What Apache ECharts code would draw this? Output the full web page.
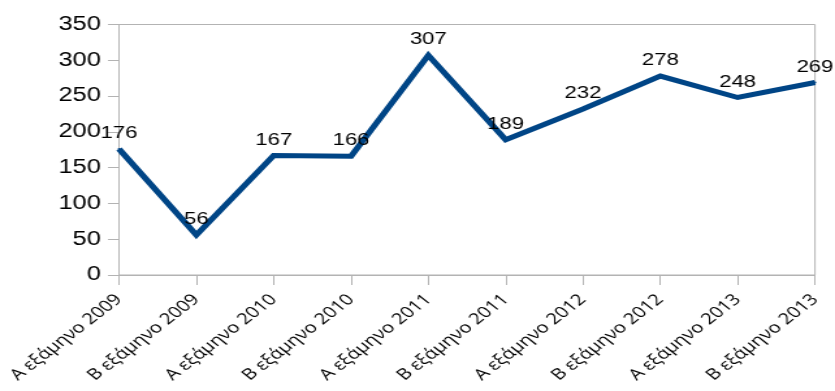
<!DOCTYPE html>
<html>
<head>
<meta charset="utf-8">
<script src="https://cdn.jsdelivr.net/npm/echarts@6/dist/echarts.min.js"></script>
<style>
  html, body { margin: 0; padding: 0; background: #ffffff; overflow: hidden; }
  /* The chart is drawn narrower and widened horizontally to 835px */
  #chart { width: 642px; height: 391px; transform: scaleX(1.30062); transform-origin: 0 0; }
</style>
</head>
<body>
<div id="chart"></div>
<script>
// Half-year periods
const categories = [
  'Α εξάμηνο 2009', 'Β εξάμηνο 2009',
  'Α εξάμηνο 2010', 'Β εξάμηνο 2010',
  'Α εξάμηνο 2011', 'Β εξάμηνο 2011',
  'Α εξάμηνο 2012', 'Β εξάμηνο 2012',
  'Α εξάμηνο 2013', 'Β εξάμηνο 2013'
];
// Values per period
const values = [176, 56, 167, 166, 307, 189, 232, 278, 248, 269];
// Value axis range
const yMin = 0;
const yMax = 350;
const yStep = 50;

const chart = echarts.init(document.getElementById('chart'), null, { renderer: 'canvas' });

chart.setOption({
  animation: false,
  backgroundColor: '#ffffff',
  grid: {
    left: 91.5, right: 15.4, top: 24.5, bottom: 116,
    outerBoundsMode: 'none',
    containLabel: false,
    show: true, borderColor: '#b3b3b3', borderWidth: 1, backgroundColor: 'transparent'
  },
  xAxis: {
    type: 'category',
    data: categories,
    boundaryGap: false,
    axisLine: { lineStyle: { color: '#b3b3b3', width: 1 } },
    axisTick: { show: true, length: 10, alignWithLabel: true, lineStyle: { color: '#b3b3b3' } },
    axisLabel: {
      rotate: 45, interval: 0, margin: 22,
      fontFamily: 'Open Sans', fontSize: 15.5, color: '#000000'
    },
    splitLine: { show: false }
  },
  yAxis: {
    type: 'value',
    min: yMin, max: yMax, interval: yStep,
    axisLine: { show: true, lineStyle: { color: '#b3b3b3', width: 1 } },
    axisTick: { show: true, length: 8.5, lineStyle: { color: '#b3b3b3' } },
    axisLabel: {
      margin: 14,
      fontFamily: 'Liberation Sans', fontSize: 19.5, color: '#000000'
    },
    splitLine: { show: false }
  },
  series: [{
    type: 'line',
    data: values,
    symbol: 'circle',
    symbolSize: 2,
    showSymbol: true,
    lineStyle: { color: '#004586', width: 5, join: 'miter' },
    itemStyle: { color: '#004586' },
    label: {
      show: true, position: 'top', distance: 6,
      fontFamily: 'Liberation Sans', fontSize: 17, color: '#000000'
    },
    labelLayout: { hideOverlap: false }
  }]
});
</script>
</body>
</html>
